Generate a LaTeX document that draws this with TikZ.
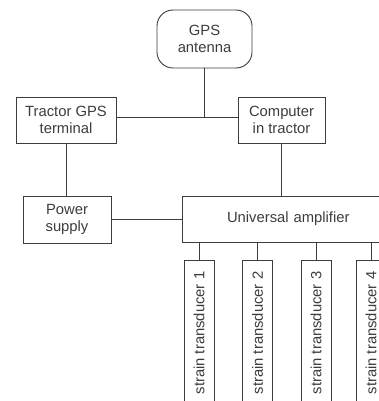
\documentclass[tikz,border=0pt]{standalone}
\usepackage{fontspec}
\setmainfont{Liberation Sans}
\usepackage{tikz}
\usetikzlibrary{positioning,calc}
\definecolor{inkgray}{RGB}{60,60,60}
\tikzset{
  blockbox/.style={draw=inkgray, line width=0.9pt, text=inkgray, align=center,
    inner sep=2pt, font=\fontsize{14.8}{17}\selectfont},
  antbox/.style={blockbox, rounded corners=16pt},
  gaugebox/.style={blockbox, minimum width=30pt, minimum height=146pt},
  wireln/.style={draw=inkgray, line width=0.9pt},
}

\begin{document}
\begin{tikzpicture}[x=1pt, y=-1pt]
    \useasboundingbox (0,0) rectangle (379,401);
    \clip (0,0) rectangle (379,401);
    % top row: antenna, terminal, computer
    \node[antbox, minimum width=95pt, minimum height=58pt] (ant) at (204.5,39) {GPS\\antenna};
    \node[blockbox, minimum width=100pt, minimum height=46pt] (term) at (66,120) {Tractor GPS\\terminal};
    \node[blockbox, minimum width=87pt, minimum height=46pt] (comp) at (281.5,120) {Computer\\in tractor};
    % middle row
    \node[blockbox, minimum width=88pt, minimum height=47pt] (pow) at (67,219.5) {Power\\supply};
    \node[blockbox, minimum width=230pt, minimum height=46pt, text width=220pt,
          align=left] (amp) at (297,219) {\hspace*{40pt}Universal amplifier};
    % strain gauges under the amplifier
    \foreach \i/\x in {1/199,2/257.5,3/316,4/371}
      \node[gaugebox] (sg\i) at (\x,333) {\rotatebox{90}{strain transducer \i}};
    % wiring
    \coordinate (jn) at (204.5,117);
    \draw[wireln] (term.east |- jn) -- (comp.west |- jn);
    \draw[wireln] (ant.south) -- (jn);
    \draw[wireln] (term.south) -- (term.south |- pow.north);
    \draw[wireln] (comp.south) -- (comp.south |- amp.north);
    \draw[wireln] (pow.east) -- (pow.east -| amp.west);
    \foreach \i in {1,...,4}
      \draw[wireln] (amp.south -| sg\i.north) -- (sg\i.north);
  \end{tikzpicture}
\end{document}
